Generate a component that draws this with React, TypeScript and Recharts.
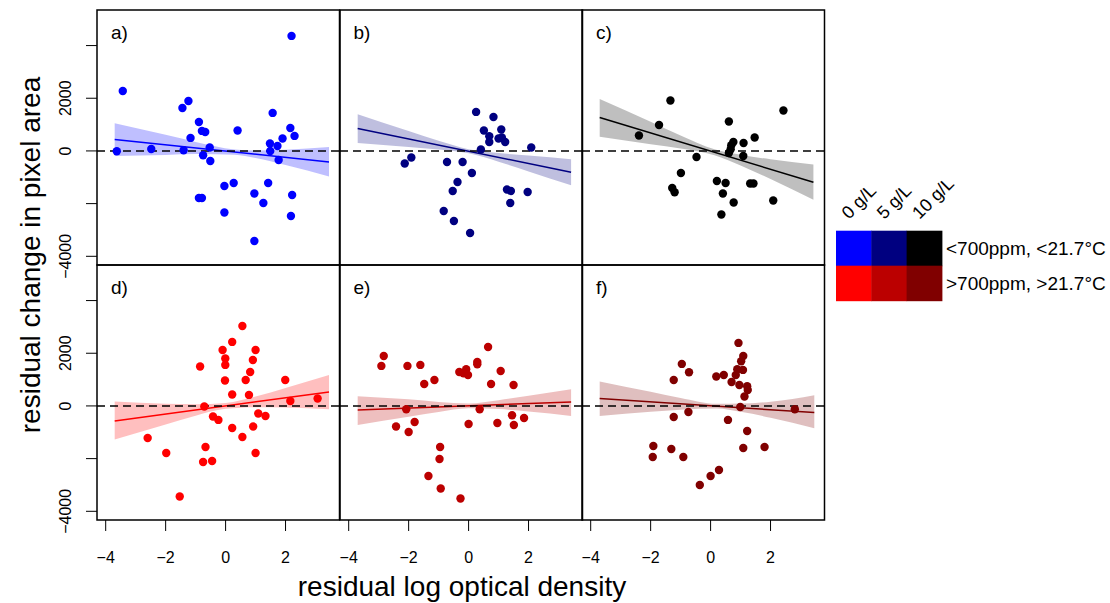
import { ComposedChart, Scatter, Line, Area, XAxis, YAxis, ReferenceLine, ReferenceArea } from "recharts";

const xTicks = [-4, -2, 0, 2];
const yTicks = [-4000, -2000, 0, 2000, 4000];
const yLabelled = [-4000, 0, 2000];
const panelLetters = ["a)", "b)", "c)", "d)", "e)", "f)"];
const panelColors = ["#0000FF", "#000080", "#000000", "#FF0000", "#BB0000", "#800000"];
const concLabels = ["0 g/L", "5 g/L", "10 g/L"];
const groupLabels = ["<700ppm, <21.7°C", ">700ppm, >21.7°C"];

// points [x, y]
const ptsA = [[2.2,4366],[-3.43,2278],[-1.24,1898],[-1.44,1632],[1.57,1443],[-0.89,1101],[2.16,873],[-0.79,760],[-0.68,721],[0.4,774],[2.3,570],[-1.17,494],[1.9,471],[1.48,281],[1.73,190],[-0.53,129],[-2.48,76],[-1.4,27],[-3.63,-11],[1.49,0],[-0.75,-163],[1.77,-342],[-0.51,-380],[0.27,-1215],[-0.04,-1329],[1.42,-1215],[0.96,-1617],[2.22,-1670],[-0.89,-1784],[-0.79,-1784],[1.26,-1974],[-0.04,-2339],[2.18,-2468],[0.96,-3417]];
const ptsB = [[0.25,1481],[0.83,1291],[0.51,774],[1.09,812],[0.69,558],[1.0,471],[1.11,509],[0.69,342],[1.22,342],[2.09,129],[0.41,53],[-1.91,-251],[-2.13,-478],[-0.72,-418],[-0.2,-418],[0.11,-835],[-0.37,-1177],[-0.53,-1519],[1.28,-1465],[1.41,-1519],[1.97,-1557],[1.39,-1974],[-0.83,-2278],[-0.49,-2658],[0.05,-3113]];
const ptsC = [[-1.34,1913],[2.43,1534],[-1.72,987],[0.61,1116],[-2.39,585],[1.47,509],[0.76,342],[0.69,216],[1.1,304],[0.61,-76],[0.67,65],[1.09,-190],[-0.47,-228],[-0.99,-835],[0.21,-1139],[0.5,-1215],[1.32,-1238],[1.43,-1238],[-1.28,-1405],[-1.2,-1568],[0.41,-1617],[2.09,-1883],[0.77,-1959],[0.36,-2415]];
const ptsD = [[0.56,3037],[0.22,2430],[-0.1,2126],[1.0,2126],[-0.01,1800],[0.91,1746],[-0.01,1557],[-0.85,1496],[0.82,1291],[-0.02,964],[0.67,987],[1.99,987],[0.22,433],[0.78,418],[2.16,190],[3.07,281],[-0.71,-23],[-0.42,-402],[-0.24,-531],[1.09,-289],[1.33,-380],[0.22,-835],[0.92,-782],[0.56,-1177],[-2.6,-1215],[-0.67,-1557],[-1.98,-1784],[1.0,-1784],[-0.75,-2126],[-0.45,-2088],[-1.53,-3440]];
const ptsE = [[0.65,2240],[-2.83,1898],[-2.91,1519],[-2.04,1519],[-1.61,1557],[0.29,1670],[0.29,1583],[-0.31,1291],[-0.08,1393],[-0.02,1177],[-0.17,1241],[1.07,1329],[-1.14,987],[-1.48,835],[0.75,835],[1.5,797],[-2.08,-125],[0.37,-125],[1.45,-353],[1.85,-456],[-1.8,-607],[-2.42,-782],[0.0,-683],[0.96,-645],[1.51,-721],[-2.0,-987],[-0.95,-1557],[-0.97,-2012],[-1.34,-2658],[-0.93,-3136],[-0.27,-3516]];
const ptsF = [[0.93,2392],[1.09,1898],[1.02,1697],[-0.96,1595],[0.89,1393],[1.08,1367],[-0.72,1279],[0.19,1116],[0.44,1177],[0.84,1177],[-1.23,987],[0.7,911],[0.96,797],[1.22,748],[1.24,607],[1.13,357],[0.99,-38],[2.81,-125],[-0.74,-228],[-1.23,-418],[0.58,-531],[1.22,-949],[-1.91,-1519],[-1.31,-1633],[1.09,-1595],[1.8,-1557],[-1.93,-1936],[-0.91,-1936],[0.28,-2430],[0.0,-2658],[-0.36,-2999]];

// fitted line end points [x, y]
const fitA = [[-3.7,433],[3.45,-418]];
const fitB = [[-3.7,850],[3.42,-809]];
const fitC = [[-3.7,1268],[3.43,-1188]];
const fitD = [[-3.7,-569],[3.45,532]];
const fitE = [[-3.7,-152],[3.42,152]];
const fitF = [[-3.7,281],[3.46,-251]];

// confidence band [x, lower, upper]
const bandA = [[-3.7,-190,1050],[-2,-150,610],[-1,-115,340],[0.3,-143,57],[1,-270,17],[2,-536,44],[3.45,-970,150]];
const bandB = [[-3.7,305,1395],[-2,153,755],[-1,55,387],[0,-92,68],[1,-411,-79],[2,-779,-177],[3.42,-1303,-315]];
const bandC = [[-3.7,540,1975],[-2,258,1108],[-1,95,583],[0.13,-160,60],[1,-549,-149],[2,-1070,-316],[3.43,-1855,-515]];
const bandD = [[-3.7,-1270,170],[-2,-700,80],[-1,-370,60],[0,-110,110],[1,-46,354],[2,-62,678],[3.45,-125,1170]];
const bandE = [[-3.7,-720,370],[-2,-410,250],[-1,-227,153],[0,-84,96],[1,-121,219],[2,-209,391],[3.42,-380,635]];
const bandF = [[-3.7,-380,930],[-2,-225,535],[-1,-142,302],[0.2,-99,81],[1,-224,88],[2,-448,162],[3.46,-850,410]];

const allPts = [ptsA, ptsB, ptsC, ptsD, ptsE, ptsF];
const allFits = [fitA, fitB, fitC, fitD, fitE, fitF];
const allBands = [bandA, bandB, bandC, bandD, bandE, bandF];

const X_DOMAIN: [number, number] = [-4.29, 3.8];
const Y_DOMAIN: [number, number] = [-4330, 5350];
const COL_LEFT = [97, 339.5, 582];
const ROW_TOP = [10, 265];
const PW = 242.5;
const PH = 255;
const YW = 50;
const XH = 50;
const FONT = "'Liberation Sans', Arial, Helvetica, sans-serif";

const minus = (v: number) => (v < 0 ? "\u2212" + Math.abs(v) : String(v));

function YTick(props: any) {
  const { x, y, payload } = props;
  if (!yLabelled.includes(payload.value)) return <g />;
  const bx = x - 13;
  return (
    <text x={bx} y={y} transform={`rotate(-90 ${bx} ${y})`} textAnchor="middle" fontSize={16} fill="#000" fontFamily={FONT}>
      {minus(payload.value)}
    </text>
  );
}

function Panel({ idx }: { idx: number }) {
  const r = Math.floor(idx / 3);
  const c = idx % 3;
  const showY = c === 0;
  const showX = r === 1;
  const color = panelColors[idx];
  // top-left panel gets extra room below so its lowest y label isn't clipped
  const extraBottom = showY && !showX ? 25 : 0;
  const w = PW + 4 + (showY ? YW : 0);
  const h = PH + 4 + (showX ? XH : 0) + extraBottom;
  const left = COL_LEFT[c] - 2 - (showY ? YW : 0);
  const top = ROW_TOP[r] - 2;

  const pts = allPts[idx].map(([x, y]) => ({ x, y }));
  const fit = allFits[idx].map(([x, y]) => ({ x, y }));
  const band = allBands[idx].map(([x, lo, hi]) => ({ x, range: [lo, hi] }));

  return (
    <div style={{ position: "absolute", left, top, zIndex: showY ? 2 : 1 }}>
      <ComposedChart width={w} height={h} margin={{ top: 2, right: 2, bottom: 2 + extraBottom, left: 2 }}>
        <XAxis
          type="number"
          dataKey="x"
          domain={X_DOMAIN}
          ticks={xTicks}
          interval={0}
          allowDataOverflow
          hide={!showX}
          height={XH}
          tickSize={11}
          tickMargin={21}
          axisLine={false}
          tickLine={{ stroke: "#000" }}
          tick={{ fill: "#000", fontSize: 16, fontFamily: FONT }}
          tickFormatter={minus}
        />
        <YAxis
          type="number"
          dataKey="y"
          domain={Y_DOMAIN}
          ticks={yTicks}
          interval={0}
          allowDataOverflow
          hide={!showY}
          width={YW}
          tickSize={11}
          tickMargin={2}
          axisLine={false}
          tickLine={{ stroke: "#000" }}
          tick={<YTick />}
        />
        <Area data={band} dataKey="range" type="monotone" stroke="none" fill={color} fillOpacity={0.25} isAnimationActive={false} />
        <Scatter
          data={pts}
          fill={color}
          isAnimationActive={false}
          shape={(p: any) => <circle cx={p.cx} cy={p.cy} r={4.2} fill={color} />}
        />
        <Line data={fit} dataKey="y" stroke={color} strokeWidth={1.5} dot={false} isAnimationActive={false} />
        <ReferenceLine y={0} stroke="#000" strokeDasharray="8 5" strokeWidth={1.5} />
        <ReferenceArea x1={X_DOMAIN[0]} x2={X_DOMAIN[1]} y1={Y_DOMAIN[0]} y2={Y_DOMAIN[1]} fill="none" stroke="#000" strokeWidth={1.5} />
      </ComposedChart>
    </div>
  );
}

const LEG_X = 836;
const LEG_Y = 230.7;
const CELL_W = 35.3;
const CELL_H = 35;

export default function App() {
  return (
    <div style={{ position: "absolute", left: 0, top: 0, width: 1110, height: 603, background: "#fff", fontFamily: FONT }}>
      {[0, 1, 2, 3, 4, 5].map((i) => (
        <Panel key={i} idx={i} />
      ))}
      <svg width={1110} height={603} style={{ position: "absolute", left: 0, top: 0, pointerEvents: "none", zIndex: 3 }} fontFamily={FONT}>
        {panelLetters.map((t, i) => (
          <text key={t} x={COL_LEFT[i % 3] + 14} y={ROW_TOP[Math.floor(i / 3)] + 29} fontSize={19} fill="#000">
            {t}
          </text>
        ))}
        <text x={462} y={596} textAnchor="middle" fontSize={28} fill="#000">
          residual log optical density
        </text>
        <text x={40} y={255} textAnchor="middle" fontSize={28} fill="#000" transform="rotate(-90 40 255)">
          residual change in pixel area
        </text>
        {panelColors.map((col, i) => (
          <rect key={col} x={LEG_X + (i % 3) * CELL_W} y={LEG_Y + Math.floor(i / 3) * CELL_H} width={CELL_W + 0.5} height={CELL_H + 0.5} fill={col} />
        ))}
        {concLabels.map((t, i) => {
          const tx = LEG_X + i * CELL_W + 13;
          const ty = 220;
          return (
            <text key={t} x={tx} y={ty} fontSize={18} fill="#000" transform={`rotate(-45 ${tx} ${ty})`}>
              {t}
            </text>
          );
        })}
        {groupLabels.map((t, i) => (
          <text key={t} x={946} y={LEG_Y + i * CELL_H + 24} fontSize={19} fill="#000">
            {t}
          </text>
        ))}
      </svg>
    </div>
  );
}
